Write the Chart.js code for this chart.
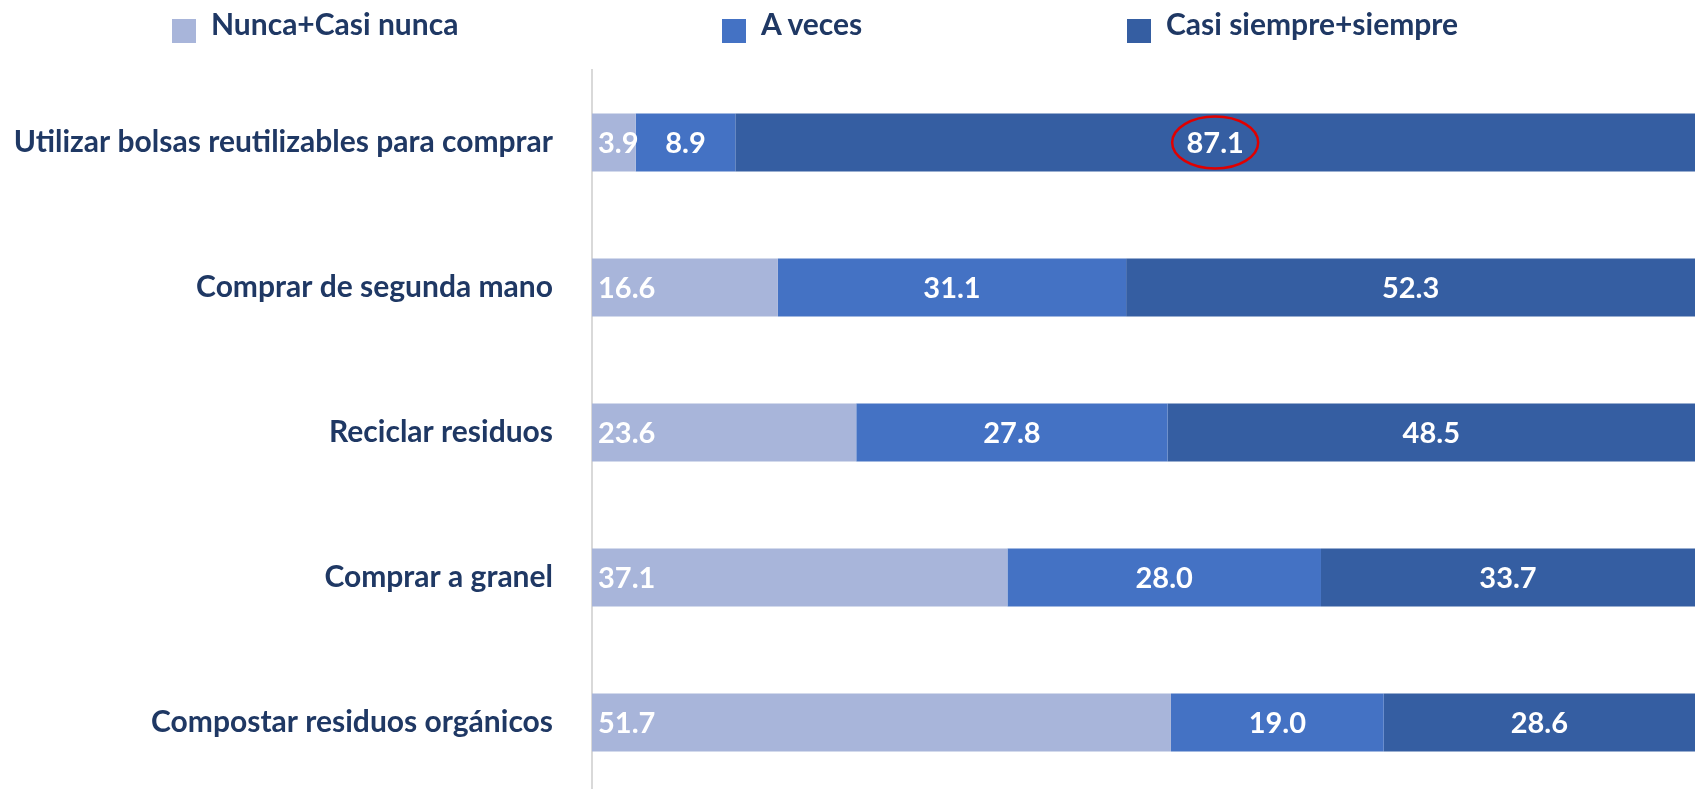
<!DOCTYPE html>
<html>
<head>
<meta charset="utf-8">
<script src="https://cdn.jsdelivr.net/npm/chart.js@4.4.0/dist/chart.umd.min.js"></script>
<style>
  html, body { margin:0; padding:0; background:#fff; overflow:hidden; width:1695px; height:789px; }
  #wrap { position:relative; width:1695px; height:795px; }
  #legend { position:absolute; top:0; left:0; width:100%; height:60px;
            font-family:Lato, "Open Sans", sans-serif; font-weight:700; font-size:30px; color:#1f3864; }
  .item { position:absolute; top:0; height:60px; }
  .box { position:absolute; top:19px; left:0; width:24px; height:24px; }
  .txt { position:absolute; top:5px; left:39px; white-space:nowrap; line-height:36px; }
</style>
</head>
<body>
<div id="wrap">
  <canvas id="chart" width="1695" height="795"></canvas>
  <div id="legend"></div>
</div>
<script>
// categories (top to bottom)
const categories = [
  'Utilizar bolsas reutilizables para comprar',
  'Comprar de segunda mano',
  'Reciclar residuos',
  'Comprar a granel',
  'Compostar residuos orgánicos'
];
const seriesLabels = ['Nunca+Casi nunca', 'A veces', 'Casi siempre+siempre'];
const nunca   = [3.9, 16.6, 23.6, 37.1, 51.7];
const aVeces  = [8.9, 31.1, 27.8, 28.0, 19.0];
const siempre = [87.1, 52.3, 48.5, 33.7, 28.6];
const colors  = ['#a8b5da', '#4472c4', '#355ea2'];

const NAVY = '#1f3864';
const FONT = 'Lato, "Open Sans", sans-serif';

// html legend
const legendLefts = [172, 722, 1127];
document.getElementById('legend').innerHTML = seriesLabels.map((l, i) =>
  `<div class="item" style="left:${legendLefts[i]}px"><div class="box" style="background:${colors[i]}"></div><div class="txt">${l}</div></div>`
).join('');

// values inside bars + red circle on the highlighted value
const barLabels = {
  id: 'barLabels',
  afterDatasetsDraw(chart) {
    const { ctx, chartArea } = chart;
    ctx.save();
    ctx.font = `700 29px ${FONT}`;
    ctx.fillStyle = '#fff';
    ctx.textBaseline = 'middle';
    chart.data.datasets.forEach((ds, di) => {
      chart.getDatasetMeta(di).data.forEach((bar, i) => {
        const txt = ds.data[i].toFixed(1);
        const right = Math.min(bar.x, chartArea.right);
        if (di === 0) {
          ctx.textAlign = 'left';
          ctx.fillText(txt, bar.base + 6, bar.y + 1);
        } else {
          ctx.textAlign = 'center';
          ctx.fillText(txt, (bar.base + right) / 2, bar.y + 1);
        }
      });
    });
    // highlight ellipse
    const b = chart.getDatasetMeta(2).data[0];
    const cx = (b.base + Math.min(b.x, chartArea.right)) / 2;
    ctx.beginPath();
    ctx.ellipse(cx, b.y, 43, 26, 0, 0, Math.PI * 2);
    ctx.strokeStyle = '#e00000';
    ctx.lineWidth = 2.5;
    ctx.stroke();
    ctx.restore();
  }
};

new Chart(document.getElementById('chart'), {
  type: 'bar',
  data: {
    labels: categories,
    datasets: [
      { label: seriesLabels[0], data: nunca,   backgroundColor: colors[0] },
      { label: seriesLabels[1], data: aVeces,  backgroundColor: colors[1] },
      { label: seriesLabels[2], data: siempre, backgroundColor: colors[2] },
    ].map(d => ({ ...d, borderWidth: 0, barPercentage: 0.4, categoryPercentage: 1 }))
  },
  options: {
    indexAxis: 'y',
    responsive: false,
    animation: false,
    devicePixelRatio: 1,
    layout: { padding: { top: 70, right: 0, bottom: 0, left: 0 } },
    plugins: { legend: { display: false }, tooltip: { enabled: false } },
    scales: {
      x: { stacked: true, min: 0, max: 98.5, display: false },
      y: {
        stacked: true,
        grid: { display: false, drawTicks: false },
        border: { display: true, color: '#d9d9d9', width: 2 },
        ticks: { color: NAVY, font: { family: FONT, size: 30, weight: '700' }, padding: 39 },
        afterFit: s => { s.width = 592; s.paddingTop = 0; s.paddingBottom = 0; }
      }
    }
  },
  plugins: [barLabels]
});
</script>
</body>
</html>
